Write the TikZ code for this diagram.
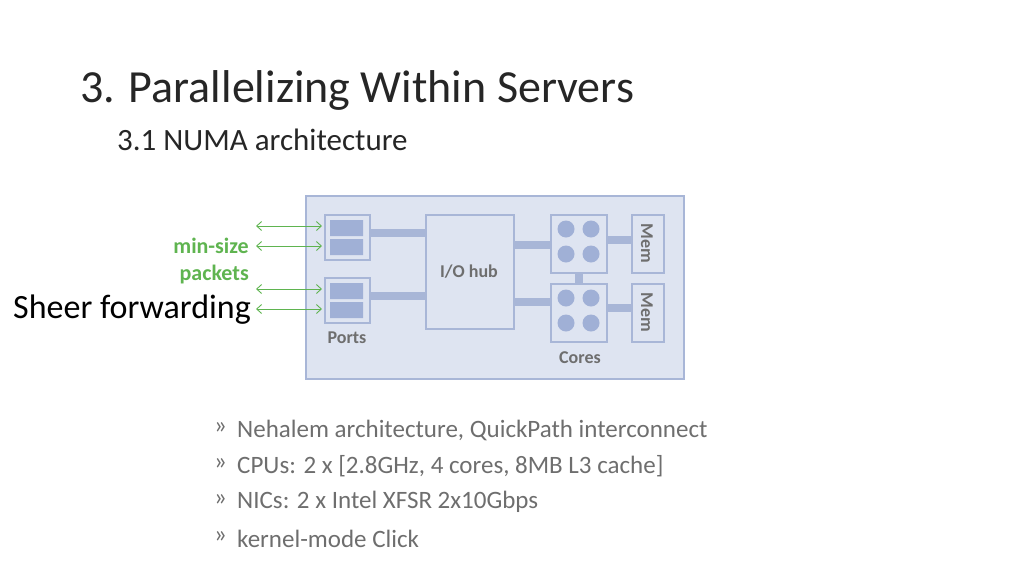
\documentclass[tikz,border=0pt]{standalone}
\usepackage{fontspec}
\setmainfont{Carlito}
\usetikzlibrary{arrows.meta}
\definecolor{bd}{RGB}{168,182,215}
\definecolor{bf}{RGB}{222,228,241}
\definecolor{ins}{RGB}{160,176,214}
\definecolor{gt}{RGB}{110,110,110}
\definecolor{gr}{RGB}{95,180,80}
\begin{document}
\begin{tikzpicture}[x=1pt,y=-1pt,
 box/.style={draw=bd,line width=1.8pt,fill=bf},
 inner/.style={draw=none,fill=ins},
 link/.style={line width=8pt,draw=bd},
 dot/.style={circle,fill=ins,minimum size=17pt,inner sep=0pt},
 arr/.style={{Straight Barb[length=5pt,width=9pt]}-{Straight Barb[length=5pt,width=9pt]},draw=gr,line width=0.9pt},
 lab/.style={text=gt,font=\bfseries\fontsize{18}{20}\selectfont}]
\useasboundingbox (0,0) rectangle (1024,576);
\node[anchor=base west,font=\fontsize{46}{50}\selectfont,text=black!85,inner sep=0pt] (t) at (80,102) {3. Parallelizing Within Servers};
\node[anchor=base west,font=\fontsize{31}{34}\selectfont,text=black!85,inner sep=0pt] (st) at (117,150) {3.1 NUMA architecture};
\node[box,minimum width=378pt,minimum height=183pt,anchor=north west] (outer) at (305,195) {};
% links
\draw[link] (369,233) -- (425,233);
\draw[link] (369,296) -- (425,296);
\draw[link] (513,245) -- (550,245);
\draw[link] (513,302) -- (550,302);
\draw[link] (606,240) -- (631,240);
\draw[link] (606,308) -- (631,308);
\draw[link] (579,272) -- (579,283);
\node[box,minimum width=45pt,minimum height=45pt,anchor=north west] (p1) at (324,214) {};
\node[box,minimum width=45pt,minimum height=45pt,anchor=north west] (p2) at (324,277) {};
\fill[inner] (330,220) rectangle (363,236) (330,239) rectangle (363,255);
\fill[inner] (330,283) rectangle (363,299) (330,302) rectangle (363,318);
\node[box,minimum width=88pt,minimum height=114pt,anchor=north west] (io) at (425,214) {};
\node[lab] at (469,272) {I/O hub};
\node[box,minimum width=56pt,minimum height=58pt,anchor=north west] (c1) at (550,214) {};
\node[box,minimum width=56pt,minimum height=58pt,anchor=north west] (c2) at (550,283) {};
\foreach \y in {0,69}{
 \node[dot] at (566,229+\y) {}; \node[dot] at (591,229+\y) {};
 \node[dot] at (566,254+\y) {}; \node[dot] at (591,254+\y) {};}
\node[box,minimum width=32pt,minimum height=58pt,anchor=north west] (m1) at (631,214) {};
\node[box,minimum width=32pt,minimum height=58pt,anchor=north west] (m2) at (631,283) {};
\node[lab,rotate=-90] at (647,243) {Mem};
\node[lab,rotate=-90] at (647,312) {Mem};
\node[lab] at (347,338) {Ports};
\node[lab] at (580,358) {Cores};
% arrows
\foreach \y/\n in {226/a,246/b,289/c,309/d}{
 \coordinate (\n) at (256,\y);
 \draw[arr] (\n) -- (322,\y);}
\node[anchor=east,align=right,text=gr,font=\bfseries\fontsize{22}{27}\selectfont,inner sep=0pt] at (249,261) {min-size\\packets};
\node[anchor=east,font=\fontsize{34}{36}\selectfont,inner sep=0pt] at (251,310) {Sheer forwarding};
% bullets
\foreach \y/\t in {430/{Nehalem architecture, QuickPath interconnect},466/{CPUs: 2 x [2.8GHz, 4 cores, 8MB L3 cache]},502/{NICs: 2 x Intel XFSR 2x10Gbps},539/{kernel-mode Click}}{
 \node[anchor=west,text=gt,font=\fontsize{25}{28}\selectfont,inner sep=0pt] at (214,\y-2) {»};
 \node[anchor=west,text=gt,font=\fontsize{25}{28}\selectfont,inner sep=0pt] at (237,\y) {\t};}
\end{tikzpicture}
\end{document}
